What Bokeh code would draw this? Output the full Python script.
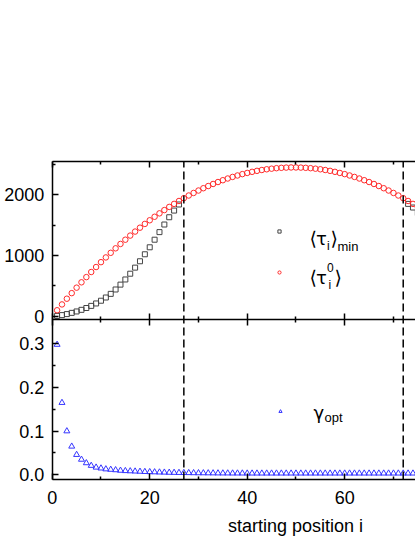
from bokeh.plotting import figure
from bokeh.models import (LinearAxis, FixedTicker, Label, Legend, LegendItem,
                          Range1d, PrintfTickFormatter, ColumnDataSource)
from bokeh.embed import file_html
from bokeh.resources import INLINE

NaN = float("nan")

# ---------------- data ----------------
position = list(range(1, 76))
tau0 = [98, 194, 288, 380, 470, 558, 644, 728, 810, 890,
        968, 1044, 1118, 1190, 1260, 1328, 1394, 1458, 1520, 1580,
        1638, 1694, 1748, 1800, 1850, 1898, 1944, 1988, 2030, 2070,
        2108, 2144, 2178, 2210, 2240, 2268, 2294, 2318, 2340, 2360,
        2378, 2394, 2408, 2420, 2430, 2438, 2444, 2448, 2450, 2450,
        2448, 2444, 2438, 2430, 2420, 2408, 2394, 2378, 2360, 2340,
        2318, 2294, 2268, 2240, 2210, 2178, 2144, 2108, 2070, 2030,
        1988, 1944, 1898, 1850, 1800]
# squares are only visible outside the two dashed lines (inside they sit under the circles)
tau_min = [5, 18, 35, 55, 78, 105, 135, 170, 210, 255,
           308, 368, 440, 520, 605, 700, 800, 905, 1020, 1135,
           1260, 1385, 1510, 1630, 1740, 1840, NaN, NaN, NaN, NaN,
           NaN, NaN, NaN, NaN, NaN, NaN, NaN, NaN, NaN, NaN,
           NaN, NaN, NaN, NaN, NaN, NaN, NaN, NaN, NaN, NaN,
           NaN, NaN, NaN, NaN, NaN, NaN, NaN, NaN, NaN, NaN,
           NaN, NaN, NaN, NaN, NaN, NaN, NaN, NaN, NaN, NaN,
           NaN, NaN, 1850, 1790, 1700]
gamma_opt = [0.298, 0.165, 0.100, 0.065, 0.046, 0.035, 0.027, 0.021, 0.017, 0.015,
             0.013, 0.012, 0.011, 0.0098, 0.009, 0.0085, 0.008, 0.0075, 0.007, 0.0066,
             0.0062, 0.0058, 0.0055, 0.0052, 0.005, 0.0048, 0.0046, 0.0044, 0.0042, 0.0041,
             0.004, 0.0039, 0.0038, 0.0037, 0.0036, 0.0036, 0.0035, 0.0035, 0.0035, 0.0034,
             0.0034, 0.0034, 0.0034, 0.0034, 0.0034, 0.0034, 0.0034, 0.0034, 0.0034, 0.0034,
             0.0034, 0.0034, 0.0034, 0.0034, 0.0034, 0.0034, 0.0034, 0.0034, 0.0034, 0.0034,
             0.0034, 0.0034, 0.0034, 0.0034, 0.0034, 0.0034, 0.0034, 0.0034, 0.0034, 0.0034,
             0.0034, 0.0034, 0.0034, 0.0034, 0.0034]
boundaries = [27, 72]

x_major = [0, 20, 40, 60, 80]
x_minor = [10, 30, 50, 70, 90]
tau_major = [0, 1000, 2000]
tau_minor = [500, 1500, 2500]
gamma_major = [0.0, 0.1, 0.2, 0.3]
gamma_minor = [0.05, 0.15, 0.25]

x_label = "starting position i"

# ---------------- layout constants ----------------
FONT = "Liberation Sans"
SYM = "DejaVu Sans"
DESCENT = {FONT: 0.212, SYM: 0.236}
W, H = 415, 537
X_RANGE = (-10.61, 74.52)          # x = 0 sits at the left frame line
GAMMA_RANGE = (-0.1435, 1.0854)    # whole canvas height in gamma units
TAU_RANGE = (-3645, 5200)          # whole canvas height in tau units
PANEL_BOTTOM = -0.0108             # lower panel bottom (gamma units)
SPLIT = 0.3547                     # boundary between panels (gamma units)
PANEL_TOP = 0.7169                 # upper panel top (gamma units)
X_BOUNDS = (0, 100)

src = ColumnDataSource(dict(i=position, tau0=tau0, tau_min=tau_min, gamma=gamma_opt))

p = figure(width=W, height=H, x_range=Range1d(*X_RANGE), y_range=Range1d(*GAMMA_RANGE),
           x_axis_location=None, y_axis_location=None,
           toolbar_location=None, output_backend="svg",
           min_border=0, min_border_left=0, min_border_right=0,
           min_border_top=0, min_border_bottom=0)
p.extra_y_ranges = {"tau": Range1d(*TAU_RANGE)}
p.outline_line_color = None
p.grid.grid_line_color = None
p.background_fill_color = "white"
p.border_fill_color = "white"


def base_axis(ax, line=True):
    ax.axis_line_width = 1.5
    ax.axis_line_color = "black" if line else None
    ax.major_tick_line_width = 1.5
    ax.minor_tick_line_width = 1.5
    ax.major_tick_line_color = "black"
    ax.minor_tick_line_color = "black"
    ax.major_tick_in = 6
    ax.major_tick_out = 0
    ax.minor_tick_in = 3
    ax.minor_tick_out = 0
    ax.major_label_text_font = FONT
    ax.major_label_text_font_size = "18px"
    ax.major_label_text_color = "black"


# lower-panel y axis (its line spans both panels)
ax_gamma = LinearAxis(fixed_location=0, bounds=(PANEL_BOTTOM, PANEL_TOP),
                      ticker=FixedTicker(ticks=gamma_major, minor_ticks=gamma_minor),
                      formatter=PrintfTickFormatter(format="%.1f"))
base_axis(ax_gamma)
ax_gamma.major_label_standoff = 8
p.add_layout(ax_gamma, "left")

# upper-panel y axis
ax_tau = LinearAxis(y_range_name="tau", fixed_location=0,
                    ticker=FixedTicker(ticks=tau_major, minor_ticks=tau_minor))
base_axis(ax_tau, line=False)
ax_tau.major_label_standoff = 8
p.add_layout(ax_tau, "left")

# bottom x axis
ax_x = LinearAxis(fixed_location=PANEL_BOTTOM, bounds=X_BOUNDS,
                  ticker=FixedTicker(ticks=x_major, minor_ticks=x_minor))
base_axis(ax_x)
ax_x.major_label_standoff = 11
p.add_layout(ax_x, "below")


# unlabelled frame lines with ticks only (major positions drawn as long minor ticks)
def tick_line(side, loc, positions, length, line=True):
    a = LinearAxis(fixed_location=loc, bounds=X_BOUNDS,
                   ticker=FixedTicker(ticks=[], minor_ticks=positions))
    base_axis(a, line=line)
    a.minor_tick_in = length
    p.add_layout(a, side)


for side in ("above", "below"):
    tick_line(side, SPLIT, x_major, 6, line=(side == "above"))
    tick_line(side, SPLIT, x_minor, 3, line=False)
tick_line("above", PANEL_TOP, x_major, 6)
tick_line("above", PANEL_TOP, x_minor, 3, line=False)

# data
r_sq = p.scatter("i", "tau_min", source=src, y_range_name="tau", marker="square", size=5,
                 fill_color=None, line_color="#444444", line_width=1)
r_ci = p.scatter("i", "tau0", source=src, y_range_name="tau", marker="circle", size=5.5,
                 fill_color=None, line_color="#ff2a2a", line_width=1)
r_tr = p.scatter("i", "gamma", source=src, marker="triangle", size=6,
                 fill_color=None, line_color="#3535ff", line_width=1)

# dashed region boundaries across both panels
p.segment(x0=boundaries, y0=[PANEL_BOTTOM] * len(boundaries),
          x1=boundaries, y1=[PANEL_TOP] * len(boundaries),
          line_color="black", line_width=1.5, line_dash="8 4")

legend_style = dict(orientation="vertical", padding=0, margin=0, glyph_width=8,
                    glyph_height=20, label_width=0, label_height=20, label_standoff=0,
                    border_line_color=None, background_fill_alpha=0,
                    label_text_font_size="13px")
p.add_layout(Legend(items=[LegendItem(label=" ", renderers=[r_sq]),
                           LegendItem(label=" ", renderers=[r_ci])],
                    location=(275.3, 254.7), spacing=21, **legend_style))
p.add_layout(Legend(items=[LegendItem(label=" ", renderers=[r_tr])],
                    location=(276, 116), **legend_style))


# page pixel -> data helpers (text placement only)
def tx(px):
    return X_RANGE[0] + px * (X_RANGE[1] - X_RANGE[0]) / W


def ty(py):
    return GAMMA_RANGE[1] - py * (GAMMA_RANGE[1] - GAMMA_RANGE[0]) / H


def put(text, px, baseline, size, font, align="left"):
    py = baseline - DESCENT[font] * size
    p.add_layout(Label(x=tx(px), y=ty(py), text=text, text_font=font,
                       text_font_size=f"{size}px", text_color="black",
                       text_align=align, text_baseline="alphabetic"))


# legend texts
put("\u27e8", 309, 242, 19, SYM)
put("\u03c4", 315.5, 242, 18, SYM)
put("i", 326.5, 248.5, 12, FONT)
put("\u27e9", 330, 242, 19, SYM)
put("min", 337, 248.5, 13, FONT)

put("\u27e8", 309, 281, 19, SYM)
put("\u03c4", 315.5, 281, 18, SYM)
put("0", 326.5, 270, 12, FONT)
put("i", 328, 287, 12, FONT)
put("\u27e9", 334, 281, 19, SYM)

put("\u03b3", 313, 416.5, 18, SYM)
put("opt", 324, 420, 13, FONT)

# axis title
put(x_label, 295, 529.5, 18, FONT, align="center")

open("out.html", "w").write(file_html(p, INLINE))
